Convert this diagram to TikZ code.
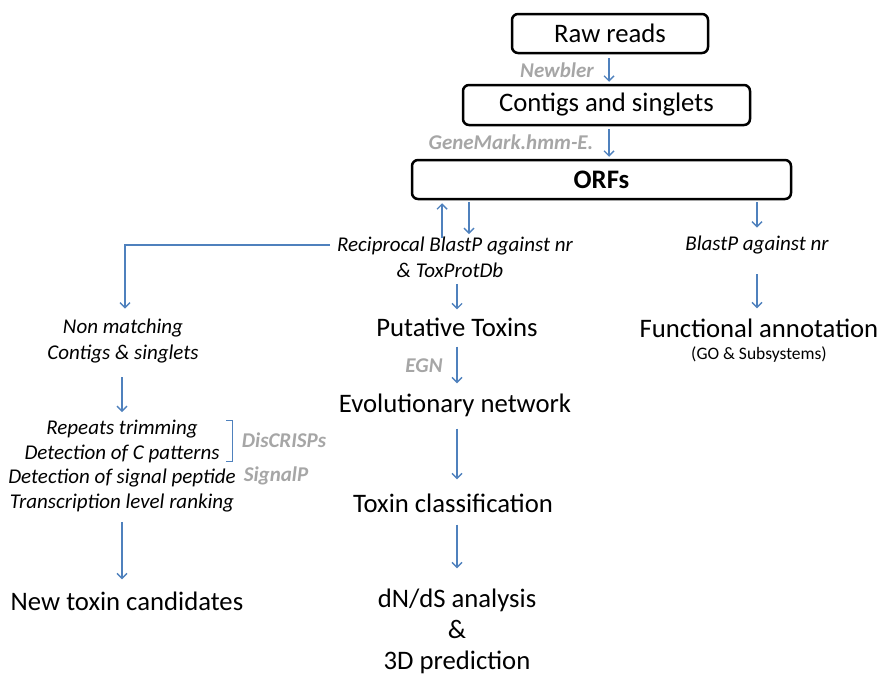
\documentclass[tikz,border=0pt]{standalone}
\usepackage{fontspec}
\setmainfont{Carlito}
\usetikzlibrary{arrows.meta}
\definecolor{arrblue}{HTML}{4F81BD}
\definecolor{toolgray}{HTML}{A6A6A6}
\tikzset{
  box/.style={draw=black, line width=2.5pt, rounded corners=6pt, fill=white, inner sep=0pt},
  big/.style={font=\fontsize{26.7}{30}\selectfont, inner sep=0pt, align=center},
  ital/.style={font=\fontsize{21}{25.5}\selectfont\itshape, inner sep=0pt, align=center},
  tool/.style={font=\fontsize{21}{24}\selectfont\bfseries\itshape, text=toolgray, inner sep=0pt},
  arr/.style={draw=arrblue, line width=1.4pt, -{Straight Barb[length=5pt,width=10pt]}},
}
\begin{document}
\begin{tikzpicture}[x=1pt,y=-1pt]
\useasboundingbox (0,0) rectangle (880,675);
% boxes
\node[box, minimum width=196pt, minimum height=39pt, big] (raw) at (610,33.5) {Raw reads};
\node[box, minimum width=287pt, minimum height=40pt, big] (contigs) at (606.5,105) {Contigs and singlets};
\node[box, minimum width=379pt, minimum height=39pt, big, font=\fontsize{26.7}{30}\selectfont\bfseries] (orfs) at (601.5,179.5) {ORFs};
% tools
\node[tool] (newbler) at (557,70) {Newbler};
\node[tool] (genemark) at (511,142) {GeneMark.hmm-E.};
\node[tool] (egn) at (424,366) {EGN};
\node[tool] (discrisps) at (284,440) {DisCRISPs};
\node[tool] (signalp) at (276,476) {SignalP};
% middle column
\node[ital] (recip) at (455,257.5) {Reciprocal BlastP against nr\\\hspace*{-10pt}\& ToxProtDb};
\node[big] (putative) at (457,327) {Putative Toxins};
\node[big] (evol) at (455,405) {Evolutionary network};
\node[big] (classif) at (453,503) {Toxin classification};
\node[big, font=\fontsize{26.7}{31}\selectfont] (dnds) at (457,631) {dN/dS analysis\\\&\\3D prediction};
% right column
\node[ital] (blastp) at (757,245) {BlastP against nr};
\node[big] (func) at (759,328) {Functional annotation};
\node[font=\fontsize{17.5}{20}\selectfont, inner sep=0pt] (go) at (759,355) {(GO \& Subsystems)};
% left column
\node[ital, font=\fontsize{21}{26}\selectfont\itshape] (nonmatch) at (123,341) {Non matching\\Contigs \& singlets};
\node[ital, font=\fontsize{21}{24.4}\selectfont\itshape] (list) at (122,466) {Repeats trimming\\Detection of C patterns\\Detection of signal peptide\\Transcription level ranking};
\node[big] (newtox) at (127,601) {New toxin candidates};
% coordinates
\coordinate (x442) at (442,0);
\coordinate (x469) at (469,0);
\coordinate (x757) at (757,0);
\coordinate (x457) at (457,0);
\coordinate (recipL) at (330,245);
\coordinate (x125) at (125,0);
\coordinate (x122) at (122,0);
\coordinate (x609) at (609,0);
% arrows
\draw[arr] ([yshift=-4pt]raw.south -| x609) -- ([yshift=2pt]contigs.north -| x609);
\draw[arr] ([yshift=-3pt]contigs.south -| x609) -- ([yshift=2pt]orfs.north -| x609);
\draw[arr] ([yshift=-1pt]recip.north -| x442) -- ([yshift=-3pt]orfs.south -| x442);
\draw[arr] ([yshift=-2pt]orfs.south -| x469) -- ([yshift=3pt]recip.north -| x469);
\draw[arr] ([yshift=-2pt]orfs.south -| x757) -- ([yshift=8pt]blastp.north -| x757);
\draw[arr] ([yshift=-6pt]recip.south -| x457) -- ([yshift=8pt]putative.north -| x457);
\draw[arr] ([yshift=-10pt]putative.south -| x457) -- ([yshift=10pt]evol.north -| x457);
\draw[arr] ([yshift=-12pt]evol.south -| x457) -- ([yshift=14pt]classif.north -| x457);
\draw[arr] ([yshift=-12pt]classif.south -| x457) -- ([yshift=20pt]dnds.north -| x457);
\draw[arr] ([yshift=-20pt]blastp.south -| x757) -- ([yshift=10pt]func.north -| x757);
\draw[arr] (recipL) -| ([yshift=10pt]nonmatch.north -| x125);
\draw[arr] ([yshift=-14pt]nonmatch.south -| x122) -- ([yshift=8pt]list.north -| x122);
\draw[arr] ([yshift=-10pt]list.south -| x122) -- ([yshift=12pt]newtox.north -| x122);
% bracket
\draw[draw=arrblue, line width=1pt] (226,420) -- (232,420) -- (232,461) -- (226,461);
\end{tikzpicture}
\end{document}
